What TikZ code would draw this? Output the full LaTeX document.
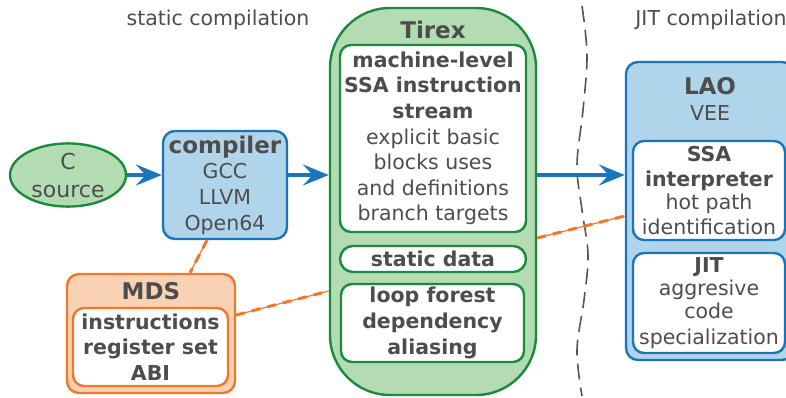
\documentclass[tikz,border=0pt]{standalone}
\usepackage{fontspec}
\setmainfont{DejaVu Sans}
\usetikzlibrary{arrows.meta,shapes.geometric}
\definecolor{txt}{HTML}{4D4D4D}
\definecolor{gfill}{HTML}{B3DCB3}
\definecolor{gline}{HTML}{1B8A3C}
\definecolor{bfill}{HTML}{B0D5EA}
\definecolor{bline}{HTML}{1A75BC}
\definecolor{ofill}{HTML}{F9D2B4}
\definecolor{oline}{HTML}{F07828}
\definecolor{dline}{HTML}{555555}
\newcommand{\ttl}[1]{{\fontsize{23}{26}\selectfont\bfseries #1}}
\tikzset{
  base/.style={font=\fontsize{20.5}{25.6}\selectfont, text=txt, align=center, inner sep=0pt},
  greenbox/.style={base, draw=gline, fill=gfill, line width=2.4pt},
  bluebox/.style={base, draw=bline, fill=bfill, line width=2.4pt, rounded corners=12pt},
  orangebox/.style={base, draw=oline, fill=ofill, line width=2.4pt, rounded corners=12pt},
  gwhite/.style={base, draw=gline, fill=white, line width=2.4pt, rounded corners=11pt},
  bwhite/.style={base, draw=bline, fill=white, line width=2.4pt, rounded corners=11pt},
  owhite/.style={base, draw=oline, fill=white, line width=2.4pt, rounded corners=11pt},
  flow/.style={draw=bline, line width=3.5pt, -{Stealth[length=26pt,width=21pt,inset=10pt]}},
  oshaft/.style={draw=oline, line width=1.2pt},
  odash/.style={draw=oline, line width=3pt, dash pattern=on 9pt off 7pt},
  divider/.style={draw=dline, line width=1.6pt, dash pattern=on 16pt off 8pt}
}
\begin{document}
\begin{tikzpicture}[x=1pt,y=-1pt]
\useasboundingbox (0,0) rectangle (786,398);
\clip (0,0) rectangle (786,398);
% titles
\node[base] (stat) at (218,20) {static compilation};
\node[base] (jit) at (711,20) {JIT compilation};
% divider
\draw[divider] plot[smooth, tension=0.6] coordinates {(582,6) (587,55) (583,110) (577,165) (582,210) (588,255) (584,300) (577,350) (582,396)};
% C source
\node[greenbox, ellipse, minimum width=116pt, minimum height=60pt, font=\fontsize{22}{28}\selectfont] (csrc) at (68,175) {C\\source};
% compiler
\node[bluebox, minimum width=124pt, minimum height=108pt] (comp) at (225,185) {\ttl{compiler}\\GCC\\LLVM\\Open64};
% Tirex
\node[greenbox, rounded corners=60pt, minimum width=206pt, minimum height=387pt] (tirex) at (433,201.5) {};
\node[base] (tirexlbl) at (433,30) {\ttl{Tirex}};
\node[gwhite, minimum width=186pt, minimum height=187pt] (ssa) at (433,138.5)
  {\textbf{machine-level}\\\textbf{SSA instruction}\\\textbf{stream}\\explicit basic\\blocks uses\\and definitions\\branch targets};
\node[gwhite, rounded corners=13pt, minimum width=186pt, minimum height=26pt] (sdata) at (433,259) {\textbf{static data}};
\node[gwhite, minimum width=183pt, minimum height=78pt] (loop) at (432.5,323)
  {\textbf{loop forest}\\\textbf{dependency}\\\textbf{aliasing}};
% LAO
\node[bluebox, minimum width=168pt, minimum height=298pt] (lao) at (710,211) {};
\node[base] (laolbl) at (710,99) {\ttl{LAO}\\VEE};
\node[bwhite, minimum width=152pt, minimum height=99pt] (interp) at (709,190.5)
  {\textbf{SSA}\\\textbf{interpreter}\\[-3pt]hot path\\identification};
\node[bwhite, minimum width=152pt, minimum height=100pt] (jitbox) at (709,303)
  {\textbf{JIT}\\[-3pt]aggresive\\[-2pt]code\\specialization};
% MDS
\node[orangebox, minimum width=168pt, minimum height=119pt] (mds) at (151,333.5) {};
\node[base] (mdslbl) at (151,291) {\ttl{MDS}};
\node[owhite, minimum width=155pt, minimum height=78pt] (mdsin) at (150.5,347)
  {\textbf{instructions}\\\textbf{register set}\\\textbf{ABI}};
% flow arrows
\draw[flow] (csrc.east) -- (csrc.east -| comp.west);
\draw[flow] ([yshift=10pt]comp.east) -- ([yshift=10pt]comp.east -| tirex.west);
\draw[flow] ([yshift=26.5pt]tirex.east) -- ([yshift=26.5pt]tirex.east -| lao.west);
% orange links
\foreach \s in {oshaft,odash}{
  \draw[\s] ([xshift=-18pt]comp.south) -- ([xshift=39pt]mds.north);
  \draw[\s] ([yshift=18.5pt]mds.east) -- ([yshift=-89.5pt]tirex.west);
  \draw[\s] ([yshift=-36.5pt]tirex.east) -- ([yshift=-5pt]lao.west);
}
\end{tikzpicture}
\end{document}
